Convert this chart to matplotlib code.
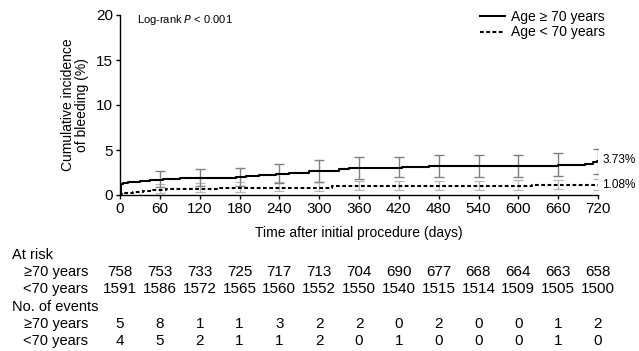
import numpy as np
import matplotlib
matplotlib.use("Agg")
import matplotlib.pyplot as plt
import matplotlib.transforms as mtransforms

plt.rcParams['font.family'] = ['Liberation Sans', 'DejaVu Sans']

# cumulative incidence step curves (days, %)
old_t = [0, 1, 5, 12, 30, 45, 65, 90, 175, 190, 210, 235, 255, 285, 330, 345, 425, 465, 660, 700, 712, 718, 720]
old_v = [0, 1.2, 1.3, 1.45, 1.55, 1.65, 1.75, 1.85, 1.98, 2.1, 2.2, 2.35, 2.5, 2.65, 2.85, 3.0, 3.1, 3.25, 3.35, 3.5, 3.62, 3.73, 3.73]
young_t = [0, 1, 8, 20, 35, 50, 70, 95, 150, 235, 320, 370, 620, 720]
young_v = [0, 0.15, 0.25, 0.35, 0.45, 0.55, 0.62, 0.7, 0.75, 0.82, 0.95, 1.0, 1.08, 1.08]

# confidence intervals at the 60-day marks
ci_days = [60, 120, 180, 240, 300, 360, 420, 480, 540, 600, 660, 720]
old_mid = [1.78, 1.9, 2.0, 2.45, 2.7, 3.0, 3.1, 3.25, 3.25, 3.25, 3.35, 3.73]
old_lo = [0.9, 1.0, 1.05, 1.3, 1.45, 1.75, 1.95, 1.95, 2.0, 2.0, 2.1, 2.3]
old_hi = [2.7, 2.85, 3.05, 3.5, 3.85, 4.2, 4.2, 4.5, 4.5, 4.5, 4.7, 5.15]
young_mid = [0.6, 0.72, 0.75, 0.82, 0.92, 1.0, 1.0, 1.0, 1.0, 1.05, 1.08, 1.08]
young_lo = [0.25, 0.35, 0.38, 0.42, 0.5, 0.55, 0.55, 0.55, 0.55, 0.6, 0.62, 0.55]
young_hi = [1.25, 1.35, 1.4, 1.45, 1.5, 1.6, 1.6, 1.6, 1.6, 1.65, 1.7, 1.75]

# numbers below the plot
table_days = [0, 60, 120, 180, 240, 300, 360, 420, 480, 540, 600, 660, 720]
risk_old = [758, 753, 733, 725, 717, 713, 704, 690, 677, 668, 664, 663, 658]
risk_young = [1591, 1586, 1572, 1565, 1560, 1552, 1550, 1540, 1515, 1514, 1509, 1505, 1500]
events_old = [5, 8, 1, 1, 3, 2, 2, 0, 2, 0, 0, 1, 2]
events_young = [4, 5, 2, 1, 1, 2, 0, 1, 0, 0, 0, 1, 0]

W, H = 639, 351
fig = plt.figure(figsize=(W / 100, H / 100), dpi=100)
ax = fig.add_axes([120 / W, 1 - 195 / H, 478 / W, 180 / H])

def asym(mid, lo, hi):
    mid = np.array(mid)
    return [mid - np.array(lo), np.array(hi) - mid]

ax.errorbar(ci_days, young_mid, yerr=asym(young_mid, young_lo, young_hi), fmt='none',
            ecolor='#b8b8b8', elinewidth=0.9, capsize=3.5, capthick=0.9, zorder=2)
ax.errorbar(ci_days, old_mid, yerr=asym(old_mid, old_lo, old_hi), fmt='none',
            ecolor='#808080', elinewidth=1.0, capsize=3.5, capthick=1.0, zorder=2)

ax.step(old_t, old_v, where='post', color='black', lw=1.5, label='Age \u2265 70 years', zorder=3)
ax.step(young_t, young_v, where='post', color='black', lw=1.5, ls=(0, (1.8, 1.2)),
        label='Age < 70 years', zorder=3)

ax.set_xlim(0, 720)
ax.set_ylim(0, 20)
ax.set_xticks(table_days)
ax.set_yticks([0, 5, 10, 15, 20])
ax.tick_params(direction='out', length=3, width=1, labelsize=11, pad=2)
for s in ['top', 'right']:
    ax.spines[s].set_visible(False)
for s in ['left', 'bottom']:
    ax.spines[s].set_linewidth(1)

ax.set_xlabel('Time after initial procedure (days)', fontsize=10, va='center')
ax.xaxis.set_label_coords(0.5, -0.212)
ax.set_ylabel('Cumulative incidence\nof bleeding (%)', fontsize=10, va='center', linespacing=1.05)
ax.yaxis.set_label_coords(-0.094, 0.5)

ax.text(0.035, 0.972, 'Log-rank $\\it{P}$ < 0.001', transform=ax.transAxes,
        fontsize=8, va='center', ha='left')

ax.annotate('3.73%', xy=(720, old_v[-1]), xytext=(3, 1), textcoords='offset points',
            fontsize=8.5, va='center', ha='left', annotation_clip=False)
ax.annotate('1.08%', xy=(720, young_v[-1]), xytext=(3, 0), textcoords='offset points',
            fontsize=8.5, va='center', ha='left', annotation_clip=False)

ax.legend(loc='upper right', bbox_to_anchor=(605 / W, 1 - 10 / H), bbox_transform=fig.transFigure,
          frameon=False, fontsize=10, handlelength=1.8, handletextpad=0.4,
          labelspacing=0.1, borderpad=0, borderaxespad=0)

# at-risk and event table
tr = mtransforms.blended_transform_factory(ax.transData, fig.transFigure)
rows = [(255, 'At risk', None),
        (272, '\u226570 years', risk_old),
        (289, '<70 years', risk_young),
        (307, 'No. of events', None),
        (324, '\u226570 years', events_old),
        (341, '<70 years', events_young)]
for y, label, vals in rows:
    fy = 1 - y / H
    if vals is None:
        fig.text(12 / W, fy, label, fontsize=10.5, ha='left', va='center')
    else:
        fig.text(88 / W, fy, label, fontsize=10.5, ha='right', va='center')
        for d, v in zip(table_days, vals):
            fig.text(d, fy, str(v), transform=tr, fontsize=11, ha='center', va='center')

fig.savefig('out.png', dpi=100)
